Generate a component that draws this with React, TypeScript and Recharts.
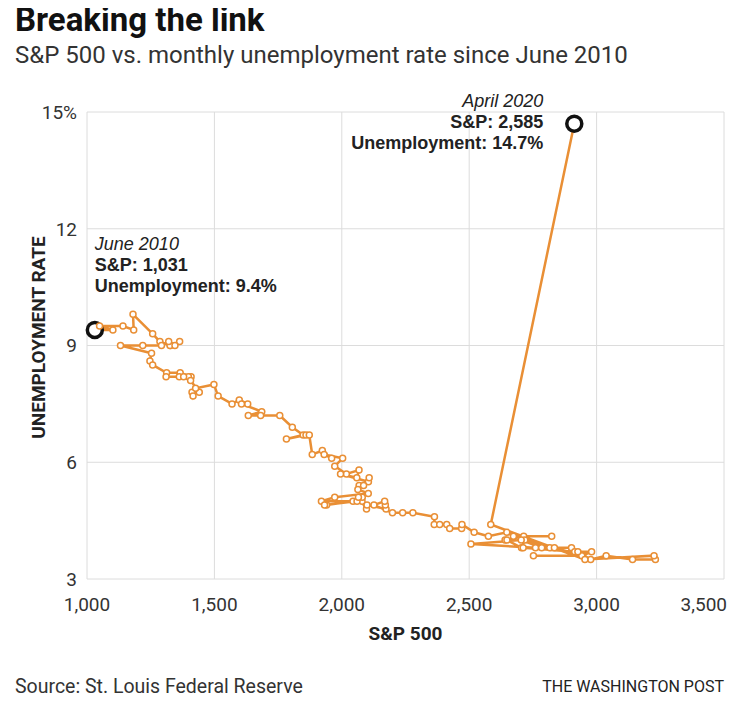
import { LineChart, Line, XAxis, YAxis, CartesianGrid, Label } from 'recharts';

// month-end S&P 500 close, June 2010 .. April 2020
const sp500 = [
  1030.71, 1101.6, 1049.33, 1141.2, 1183.26, 1180.55, 1257.64,
  1286.12, 1327.22, 1325.83, 1363.61, 1345.2, 1320.64, 1292.28, 1218.89, 1131.42, 1253.3, 1246.96, 1257.6,
  1312.41, 1365.68, 1408.47, 1397.91, 1310.33, 1362.16, 1379.32, 1406.58, 1440.67, 1412.16, 1416.18, 1426.19,
  1498.11, 1514.68, 1569.19, 1597.57, 1630.74, 1606.28, 1685.73, 1632.97, 1681.55, 1756.54, 1805.81, 1848.36,
  1782.59, 1859.45, 1872.34, 1883.95, 1923.57, 1960.23, 1930.67, 2003.37, 1972.29, 2018.05, 2067.56, 2058.9,
  1994.99, 2104.5, 2067.89, 2085.51, 2107.39, 2063.11, 2103.84, 1972.18, 1920.03, 2079.36, 2080.41, 2043.94,
  1940.24, 1932.23, 2059.74, 2065.3, 2096.95, 2098.86, 2173.6, 2170.95, 2168.27, 2126.15, 2198.81, 2238.83,
  2278.87, 2363.64, 2362.72, 2384.2, 2411.8, 2423.41, 2470.3, 2471.65, 2519.36, 2575.26, 2647.58, 2673.61,
  2823.81, 2713.83, 2640.87, 2648.05, 2705.27, 2718.37, 2816.29, 2901.52, 2913.98, 2711.74, 2760.17, 2506.85,
  2704.1, 2784.49, 2834.4, 2945.83, 2752.06, 2941.76, 2980.38, 2926.46, 2976.74, 3037.56, 3140.98, 3230.78,
  3225.52, 2954.22, 2584.59, 2912.43,
];

// monthly unemployment rate, same months
const unemployment = [
  9.4, 9.4, 9.5, 9.5, 9.4, 9.8, 9.3,
  9.1, 9.0, 9.0, 9.1, 9.0, 9.1, 9.0, 9.0, 9.0, 8.8, 8.6, 8.5,
  8.3, 8.3, 8.2, 8.2, 8.2, 8.2, 8.2, 8.1, 7.8, 7.8, 7.7, 7.9,
  8.0, 7.7, 7.5, 7.6, 7.5, 7.5, 7.3, 7.2, 7.2, 7.2, 6.9, 6.7,
  6.6, 6.7, 6.7, 6.2, 6.3, 6.1, 6.2, 6.1, 5.9, 5.7, 5.8, 5.6,
  5.7, 5.5, 5.4, 5.4, 5.6, 5.3, 5.2, 5.1, 5.0, 5.0, 5.1, 5.0,
  4.9, 4.9, 5.0, 5.1, 4.8, 4.9, 4.8, 4.9, 5.0, 4.9, 4.7, 4.7,
  4.7, 4.6, 4.4, 4.4, 4.4, 4.3, 4.3, 4.4, 4.2, 4.1, 4.2, 4.1,
  4.1, 4.1, 4.0, 4.0, 3.8, 4.0, 3.8, 3.8, 3.7, 3.8, 3.8, 3.9,
  4.0, 3.8, 3.8, 3.6, 3.6, 3.6, 3.7, 3.7, 3.5, 3.6, 3.5, 3.5,
  3.6, 3.5, 4.4, 14.7,
];

const xTicks = [1000, 1500, 2000, 2500, 3000, 3500];
const yTicks = [3, 6, 9, 12, 15];

const firstNote = ['June 2010', 'S&P: 1,031', 'Unemployment: 9.4%'];
const lastNote = ['April 2020', 'S&P: 2,585', 'Unemployment: 14.7%'];

const data = sp500.map((sp, i) => ({ sp, rate: unemployment[i] }));

const ORANGE = '#e98f35';
const noteFont = "'Liberation Sans', Arial, sans-serif";
const tickFont = "Roboto, 'Liberation Sans', sans-serif";

const XTick = (props: any) => {
  const { x, y, payload } = props;
  const last = payload.value === 3500;
  return (
    <text
      x={last ? x + 3 : x}
      y={y}
      dy="0.71em"
      textAnchor={last ? 'end' : 'middle'}
      fontSize={19}
      fontFamily={tickFont}
      fill="#333"
    >
      {payload.value.toLocaleString('en-US')}
    </text>
  );
};

const YTick = (props: any) => {
  const { x, y, payload } = props;
  return (
    <text x={x} y={y} dy="0.36em" textAnchor="end" fontSize={19} fontFamily={tickFont} fill="#333">
      {payload.value === 15 ? '15%' : payload.value}
    </text>
  );
};

const YTitle = (props: any) => {
  const { viewBox } = props;
  const x = viewBox.x + 11;
  const y = viewBox.y + viewBox.height / 2 - 8;
  return (
    <text
      x={x}
      y={y}
      transform={`rotate(-90, ${x}, ${y})`}
      textAnchor="middle"
      dominantBaseline="central"
      fontFamily={tickFont}
      fontWeight={700}
      fontSize={19}
      fill="#222"
    >
      UNEMPLOYMENT RATE
    </text>
  );
};

const Note = ({ x, y, lines, anchor }: { x: number; y: number; lines: string[]; anchor: 'start' | 'end' }) => (
  <g fontFamily={noteFont} fontSize={18} fill="#222">
    <text x={x} y={y} textAnchor={anchor} fontStyle="italic">
      {lines[0]}
    </text>
    <text x={x} y={y + 21} textAnchor={anchor} fontWeight="bold">
      {lines[1]}
    </text>
    <text x={x} y={y + 42} textAnchor={anchor} fontWeight="bold">
      {lines[2]}
    </text>
  </g>
);

const renderDot = (props: any) => {
  const { cx, cy, index } = props;
  if (index === 0) {
    return (
      <g key={`dot-${index}`}>
        <circle cx={cx} cy={cy} r={7.5} fill="#fff" stroke="#111" strokeWidth={3.5} />
        <Note x={cx} y={cy - 80} lines={firstNote} anchor="start" />
      </g>
    );
  }
  if (index === data.length - 1) {
    return (
      <g key={`dot-${index}`}>
        <circle cx={cx} cy={cy} r={7.5} fill="#fff" stroke="#111" strokeWidth={3.5} />
        <Note x={cx - 31} y={cy - 17} lines={lastNote} anchor="end" />
      </g>
    );
  }
  return <circle key={`dot-${index}`} cx={cx} cy={cy} r={3} fill="#fff" stroke={ORANGE} strokeWidth={1.5} />;
};

export default function App() {
  return (
    <div style={{ position: 'relative', width: 750, height: 715, margin: -8, background: '#fff', overflow: 'hidden' }}>
      <div
        style={{
          position: 'absolute', left: 15, top: 3, fontFamily: tickFont, fontWeight: 700,
          fontSize: 33, lineHeight: '33px', color: '#111', whiteSpace: 'nowrap',
        }}
      >
        Breaking the link
      </div>
      <div
        style={{
          position: 'absolute', left: 15, top: 43, fontFamily: tickFont, fontSize: 24,
          lineHeight: '24px', color: '#333', whiteSpace: 'nowrap',
        }}
      >
        S&amp;P 500 vs. monthly unemployment rate since June 2010
      </div>

      <div style={{ position: 'absolute', left: 0, top: 0 }}>
        <LineChart width={750} height={715} data={data} margin={{ top: 112, right: 26, bottom: 106, left: 27 }}>
          <CartesianGrid stroke="#dcdcdc" strokeWidth={1} />
          <XAxis
            type="number"
            dataKey="sp"
            domain={[1000, 3500]}
            ticks={xTicks}
            axisLine={false}
            tickLine={false}
            tickSize={16}
            tickMargin={3}
            height={30}
            tick={<XTick />}
          >
            <Label
              value="S&P 500"
              position="bottom"
              offset={18}
              style={{ fontFamily: tickFont, fontWeight: 700, fontSize: 19, fill: '#222' }}
            />
          </XAxis>
          <YAxis
            type="number"
            dataKey="rate"
            domain={[3, 15]}
            ticks={yTicks}
            axisLine={false}
            tickLine={false}
            tickSize={8}
            tickMargin={2}
            width={60}
            tick={<YTick />}
          >
            <Label content={<YTitle />} />
          </YAxis>
          <Line
            type="linear"
            dataKey="rate"
            stroke={ORANGE}
            strokeWidth={2.5}
            dot={renderDot}
            activeDot={false}
            isAnimationActive={false}
          />
        </LineChart>
      </div>

      <div
        style={{
          position: 'absolute', left: 15, top: 677, fontFamily: tickFont, fontSize: 19.5,
          lineHeight: '19.5px', color: '#333', whiteSpace: 'nowrap',
        }}
      >
        Source: St. Louis Federal Reserve
      </div>
      <div
        style={{
          position: 'absolute', right: 26, top: 679, fontFamily: tickFont, fontSize: 16,
          lineHeight: '16px', color: '#222', whiteSpace: 'nowrap',
        }}
      >
        THE WASHINGTON POST
      </div>
    </div>
  );
}
